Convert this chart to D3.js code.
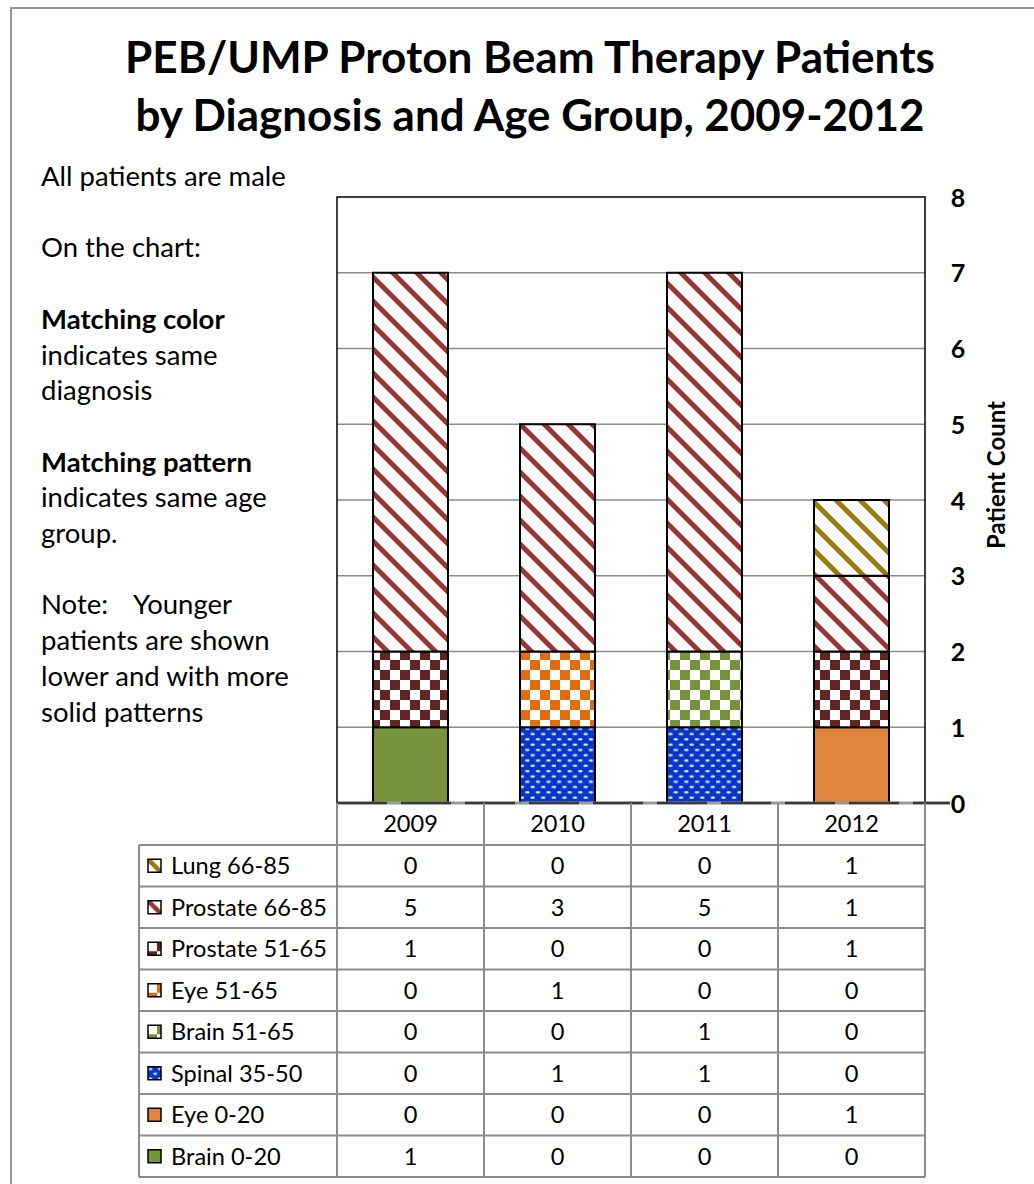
<!DOCTYPE html>
<html><head><meta charset="utf-8">
<script src="https://cdn.jsdelivr.net/npm/d3@7"></script>
<style>body{margin:0;background:#fff}svg{display:block}text{font-family:Lato,"Open Sans",sans-serif;fill:#000}</style>
</head><body><svg id="c" width="1034" height="1184"></svg>
<script>
// ---- data ----
const years = ["2009","2010","2011","2012"];
// stacking order bottom -> top
const seriesNames = ["Brain 0-20","Eye 0-20","Spinal 35-50","Brain 51-65","Eye 51-65","Prostate 51-65","Prostate 66-85","Lung 66-85"];
const brain0_20    = [1,0,0,0];
const eye0_20      = [0,0,0,1];
const spinal35_50  = [0,1,1,0];
const brain51_65   = [0,0,1,0];
const eye51_65     = [0,1,0,0];
const prostate51_65= [1,0,0,1];
const prostate66_85= [5,3,5,1];
const lung66_85    = [0,0,0,1];
const seriesValues = [brain0_20,eye0_20,spinal35_50,brain51_65,eye51_65,prostate51_65,prostate66_85,lung66_85];
const yTicks = [0,1,2,3,4,5,6,7,8];
const titleLines = ["PEB/UMP Proton Beam Therapy Patients","by Diagnosis and Age Group, 2009-2012"];
const yAxisTitle = "Patient Count";

// ---- styles ----
const fills = {
  "Brain 0-20":{type:"solid",color:"#77933C"},
  "Eye 0-20":{type:"solid",color:"#DF853F"},
  "Spinal 35-50":{type:"dots",color:"#0836C8"},
  "Brain 51-65":{type:"checker",color:"#77933C"},
  "Eye 51-65":{type:"checker",color:"#E46C0A"},
  "Prostate 51-65":{type:"checker",color:"#632523"},
  "Prostate 66-85":{type:"stripe",color:"#953735"},
  "Lung 66-85":{type:"stripe",color:"#9A7B0A"}
};

const svg = d3.select("#c");
const defs = svg.append("defs");
function makePattern(id, f, s){
  if(f.type==="solid") return f.color;
  const p = defs.append("pattern").attr("id",id).attr("patternUnits","userSpaceOnUse");
  if(f.type==="checker"){
    const t=20*s; p.attr("width",t).attr("height",t);
    p.append("rect").attr("width",t).attr("height",t).attr("fill","#fff");
    p.append("rect").attr("x",t/2).attr("width",t/2).attr("height",t/2).attr("fill",f.color);
    p.append("rect").attr("y",t/2).attr("width",t/2).attr("height",t/2).attr("fill",f.color);
  } else if(f.type==="stripe"){
    const t=24*s; p.attr("width",t).attr("height",t);
    p.append("rect").attr("width",t).attr("height",t).attr("fill","#fff");
    p.append("path").attr("d",`M${-t/4},${-t/4}L${t*1.25},${t*1.25}M${-t/4},${t*0.75}L${t/4},${t*1.25}M${t*0.75},${-t/4}L${t*1.25},${t/4}`)
      .attr("stroke",f.color).attr("stroke-width",5*s);
  } else if(f.type==="dots"){
    const w=10.6*s,h=10.6*s; p.attr("width",w).attr("height",h);
    p.append("rect").attr("width",w).attr("height",h).attr("fill",f.color);
    p.append("ellipse").attr("cx",w*0.25).attr("cy",h*0.25).attr("rx",2.3*s).attr("ry",1.2*s).attr("fill","#dfe6ff");
    p.append("ellipse").attr("cx",w*0.75).attr("cy",h*0.75).attr("rx",2.3*s).attr("ry",1.2*s).attr("fill","#dfe6ff");
  }
  return `url(#${id})`;
}
const barFill={}, keyFill={};
seriesNames.forEach((n,i)=>{ barFill[n]=makePattern("p"+i,fills[n],1); keyFill[n]=makePattern("k"+i,fills[n],0.9); });

// outer border
svg.append("path").attr("d","M11,1184V8H1034").attr("fill","none").attr("stroke","#999").attr("stroke-width",2);

function fit(sel, target){
  const w = sel.node().getComputedTextLength();
  const fs = parseFloat(sel.attr("font-size"));
  sel.attr("font-size", fs*target/w);
  return fs*target/w;
}

// title
const t1 = svg.append("text").attr("x",530).attr("y",73).attr("text-anchor","middle").attr("font-weight","bold").attr("font-size",40).text(titleLines[0]);
fit(t1,810);
const t2 = svg.append("text").attr("x",530).attr("y",131).attr("text-anchor","middle").attr("font-weight","bold").attr("font-size",40).text(titleLines[1]);
fit(t2,789);

// left notes
const notes = [
 ["All patients are male",false],["",false],["On the chart:",false],["",false],
 ["Matching color",true],["indicates same",false],["diagnosis",false],["",false],
 ["Matching pattern",true],["indicates same age",false],["group.",false],["",false],
 ["Note:",false],["patients are shown",false],["lower and with more",false],["solid patterns",false]];
const probe = svg.append("text").attr("font-size",22).text("All patients are male");
const noteFs = fit(probe,245); probe.remove();
notes.forEach((d,i)=>{
  if(!d[0]) return;
  svg.append("text").attr("x",41).attr("y",186+i*35.7).attr("font-size",noteFs)
    .attr("font-weight",d[1]?"bold":"normal").text(d[0]);
});
svg.append("text").attr("x",133).attr("y",186+12*35.7).attr("font-size",noteFs).text("Younger");

// scales
const x = d3.scaleBand().domain(years).range([337,925]).paddingInner(0.49).paddingOuter(0.245);
const y = d3.scaleLinear().domain([0,8]).range([803,197]);

// gridlines
svg.append("g").selectAll("line").data(yTicks.filter(v=>v>0&&v<8)).join("line")
  .attr("x1",337).attr("x2",925).attr("y1",d=>y(d)).attr("y2",d=>y(d))
  .attr("stroke","#8c8c8c").attr("stroke-width",1.5);

// stacked bars
const rows = years.map((yr,j)=>{ const o={year:yr}; seriesNames.forEach((n,i)=>o[n]=seriesValues[i][j]); return o; });
const stacked = d3.stack().keys(seriesNames)(rows);
const gBars = svg.append("g");
stacked.forEach(layer=>{
  gBars.selectAll(null).data(layer.filter(d=>d[1]-d[0]>0)).join("rect")
    .attr("x",d=>x(d.data.year)).attr("width",x.bandwidth())
    .attr("y",d=>y(d[1])).attr("height",d=>y(d[0])-y(d[1]))
    .attr("fill",barFill[layer.key]).attr("stroke","#000").attr("stroke-width",2);
});

// plot border (top/left/right)
svg.append("path").attr("d",`M337,803V197H925V803`).attr("fill","none").attr("stroke","#000").attr("stroke-width",1.5);
// zero axis line
svg.append("line").attr("x1",337).attr("x2",950).attr("y1",y(0)).attr("y2",y(0)).attr("stroke","#9a9a9a").attr("stroke-width",3);
svg.append("line").attr("x1",337).attr("x2",950).attr("y1",y(0)).attr("y2",y(0)).attr("stroke","#3a3a3a").attr("stroke-width",2.5).attr("stroke-dasharray","50,14");

// y axis labels
const yAxis = d3.axisRight(y).tickValues(yTicks).tickSize(0).tickPadding(0).tickFormat(d3.format("d"));
const ga = svg.append("g").attr("transform","translate(958,0)").call(yAxis);
ga.attr("font-size",null).attr("font-family",null);
ga.select(".domain").remove();
ga.selectAll("text").attr("text-anchor","middle").attr("font-size",25).attr("font-weight","bold")
  .style("font-family","Lato,'Open Sans',sans-serif").attr("fill","#000").attr("dy","0.36em");
const yt = svg.append("text").attr("transform","translate(1005,475) rotate(-90)").attr("text-anchor","middle")
  .attr("font-size",18).attr("font-weight","bold").text(yAxisTitle);
fit(yt,148);

// data table
const cols = [337].concat(years.map(yr=>x(yr)+x.bandwidth()/2+x.step()/2));
const tblLeft=139, hdrTop=803, hdrBot=845, rowH=41.5;
const tableOrder = seriesNames.slice().reverse();
const tl = svg.append("g").attr("stroke","#8c8c8c").attr("stroke-width",2);
cols.forEach(cx=>tl.append("line").attr("x1",cx).attr("x2",cx).attr("y1",hdrTop).attr("y2",hdrBot+rowH*tableOrder.length));
tl.append("line").attr("x1",tblLeft).attr("x2",tblLeft).attr("y1",hdrBot).attr("y2",hdrBot+rowH*tableOrder.length);
for(let r=0;r<=tableOrder.length;r++){
  tl.append("line").attr("x1",tblLeft).attr("x2",925).attr("y1",hdrBot+r*rowH).attr("y2",hdrBot+r*rowH);
}
const probe2 = svg.append("text").attr("font-size",21).text("Prostate 66-85");
const tFs = fit(probe2,156); probe2.remove();
years.forEach(yr=>{
  svg.append("text").attr("x",x(yr)+x.bandwidth()/2).attr("y",(hdrTop+hdrBot)/2).attr("dy","0.35em")
    .attr("text-anchor","middle").attr("font-size",tFs).text(yr);
});
tableOrder.forEach((n,r)=>{
  const cy = hdrBot + r*rowH + rowH/2;
  const kg = svg.append("g").attr("transform",`translate(148,${cy-6.5})`);
  kg.append("rect").attr("width",13).attr("height",13).attr("fill",keyFill[n]).attr("stroke","#000").attr("stroke-width",1.5);
  svg.append("text").attr("x",171).attr("y",cy).attr("dy","0.35em").attr("font-size",tFs).text(n);
  const vals = seriesValues[seriesNames.indexOf(n)];
  years.forEach((yr,j)=>{
    svg.append("text").attr("x",x(yr)+x.bandwidth()/2).attr("y",cy).attr("dy","0.35em")
      .attr("text-anchor","middle").attr("font-size",tFs).text(vals[j]);
  });
});
</script></body></html>
